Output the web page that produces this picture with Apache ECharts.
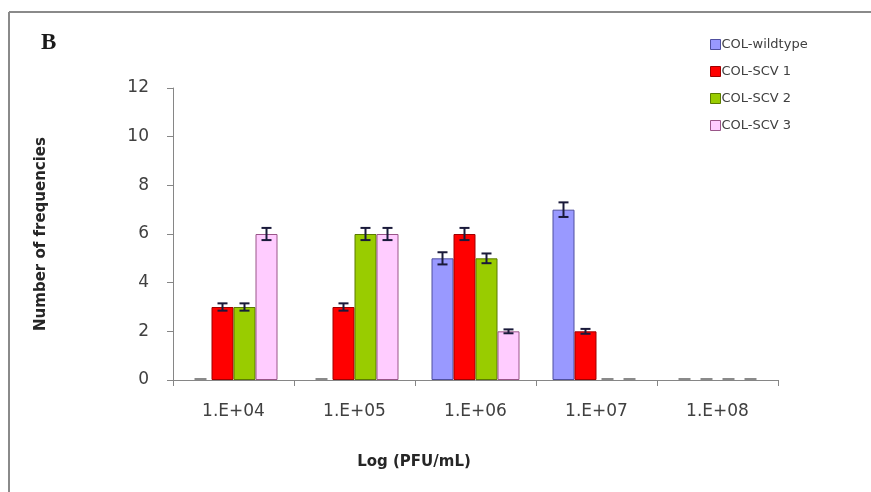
<!DOCTYPE html>
<html><head><meta charset="utf-8">
<script src="https://cdn.jsdelivr.net/npm/echarts@6/dist/echarts.min.js"></script>
<style>html,body{margin:0;padding:0;background:#fff}#c{width:871px;height:492px}</style>
</head><body><div id="c"></div>
<script>
const categories = ['1.E+04','1.E+05','1.E+06','1.E+07','1.E+08'];
const seriesNames = ['COL-wildtype','COL-SCV 1','COL-SCV 2','COL-SCV 3'];
const wildtype = [0,0,5,7,0];
const scv1 = [3,3,6,2,0];
const scv2 = [3,6,5,0,0];
const scv3 = [6,6,2,0,0];
const errWildtype = [0,0,0.25,0.3,0];
const errScv1 = [0.15,0.15,0.25,0.1,0];
const errScv2 = [0.15,0.25,0.2,0,0];
const errScv3 = [0.25,0.25,0.08,0,0];
const yTicks = [0,2,4,6,8,10,12];
const xTitle = 'Log (PFU/mL)';
const yTitle = 'Number of frequencies';
const panelLabel = 'B';

const values = [wildtype, scv1, scv2, scv3];
const errs = [errWildtype, errScv1, errScv2, errScv3];
const fills = ['#9999FF','#FF0000','#99CC00','#FFCCFF'];
const borders = ['#4F4F9F','#A00000','#5A7A00','#995588'];
const BW = 22;
const FONT = '"DejaVu Sans"';

const chart = echarts.init(document.getElementById('c'));
const series = [];
values.forEach((v,i)=>{
  series.push({
    type:'bar', name:seriesNames[i], barWidth:BW, barGap:'0%',
    data:v.map(val=> val===0 ? {value:val, itemStyle:{borderWidth:0}} : val),
    itemStyle:{color:fills[i], borderColor:borders[i], borderWidth:1},
    z:2
  });
});
values.forEach((v,i)=>{
  series.push({
    type:'custom', name:seriesNames[i]+'-err', z:5, silent:true,
    data: v.map((val,k)=>[k,val,errs[i][k]]),
    renderItem:function(params, api){
      const k = api.value(0), val = api.value(1), e = api.value(2);
      const c = api.coord([k,val]);
      const x = c[0] + (i-1.5)*BW;
      if (val === 0) {
        return {type:'line', shape:{x1:x-6,y1:c[1]-1,x2:x+6,y2:c[1]-1}, style:{stroke:'#8a8a8a', lineWidth:2}};
      }
      const top = api.coord([k,val+e])[1];
      const bot = api.coord([k,val-e])[1];
      const st = {stroke:'#1a1a3a', lineWidth:2};
      return {type:'group', children:[
        {type:'line', shape:{x1:x,y1:top,x2:x,y2:bot}, style:st},
        {type:'line', shape:{x1:x-5,y1:top,x2:x+5,y2:top}, style:st},
        {type:'line', shape:{x1:x-5,y1:bot,x2:x+5,y2:bot}, style:st}
      ]};
    }
  });
});

chart.setOption({
  animation:false,
  backgroundColor:'#fff',
  textStyle:{fontFamily:FONT},
  grid:{left:173, right:93, top:88, bottom:112},
  legend:{
    data:seriesNames.map((n,i)=>({name:n, itemStyle:{color:fills[i], borderColor:borders[i], borderWidth:1}})),
    orient:'vertical', left:705, top:33, itemWidth:10, itemHeight:10, itemGap:14,
    icon:'rect', textStyle:{fontFamily:FONT, fontSize:13, color:'#404040', padding:[0,0,0,-4]}
  },
  xAxis:{
    type:'category', data:categories,
    axisLine:{lineStyle:{color:'#868686', width:1}},
    axisTick:{show:true, alignWithLabel:false, length:6, lineStyle:{color:'#868686'}},
    axisLabel:{fontSize:17, color:'#404040', margin:23}
  },
  yAxis:{
    type:'value', min:0, max:12, interval:2,
    name:yTitle, nameLocation:'middle', nameGap:124, nameRotate:90,
    nameTextStyle:{fontFamily:FONT, fontWeight:'bold', fontSize:15, color:'#262626'},
    axisLine:{show:true, lineStyle:{color:'#868686', width:1}},
    axisTick:{show:true, length:6, lineStyle:{color:'#868686'}},
    splitLine:{show:false},
    axisLabel:{fontSize:17, color:'#404040', margin:24,
      formatter:function(v){return yTicks.indexOf(v)>=0 ? String(v) : '';}}
  },
  graphic:[
    {type:'line', shape:{x1:9,y1:12,x2:9,y2:492}, style:{stroke:'#8a8a8a', lineWidth:2}},
    {type:'line', shape:{x1:9,y1:12,x2:871,y2:12}, style:{stroke:'#8a8a8a', lineWidth:2}},
    {type:'text', left:41, top:32, style:{text:panelLabel, font:'bold 23px "Liberation Serif"', fill:'#1a1a1a'}},
    {type:'text', x:414, y:462, style:{text:xTitle, font:'bold 15px "DejaVu Sans"', fill:'#262626', textAlign:'center', textVerticalAlign:'middle'}}
  ],
  series:series
});
</script></body></html>
